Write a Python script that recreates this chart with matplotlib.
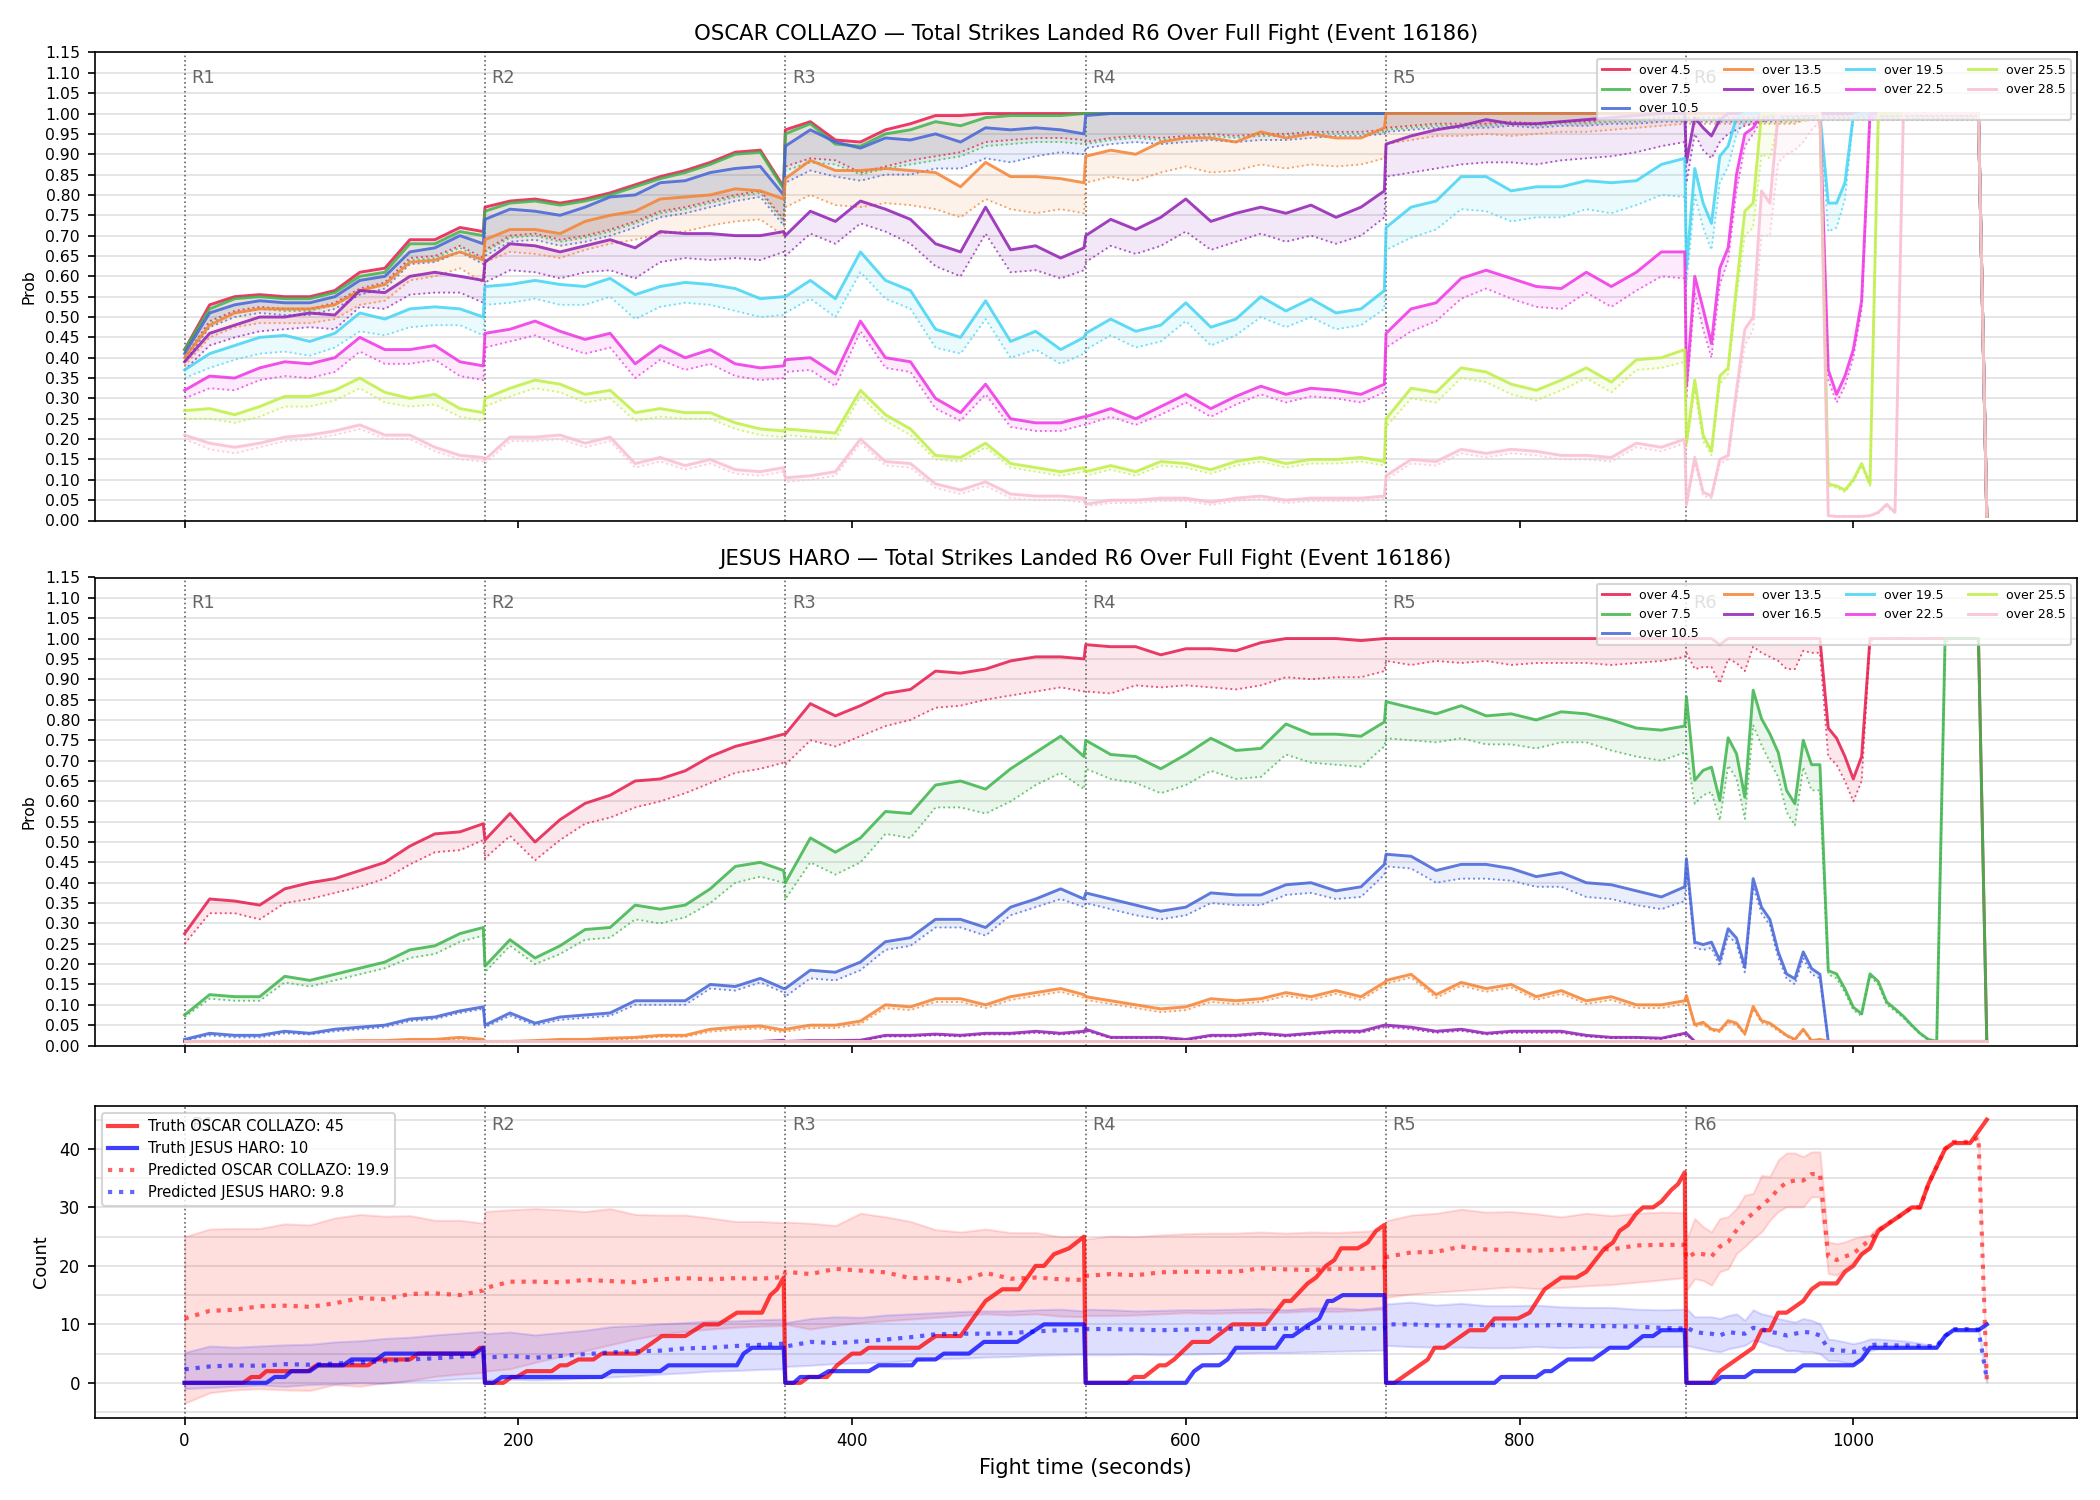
import matplotlib
matplotlib.use('Agg')
import matplotlib.pyplot as plt
import matplotlib.transforms as mtransforms
from matplotlib.ticker import MultipleLocator

# sample times: 15 s steps inside rounds 1-5, 5 s steps in round 6
t = [r * 180 + o for r in range(5)
     for o in (0, 15, 30, 45, 60, 75, 90, 105, 120, 135, 150, 165, 179)] + list(range(900, 1081, 5))

OVER = ['over 4.5', 'over 7.5', 'over 10.5', 'over 13.5', 'over 16.5',
        'over 19.5', 'over 22.5', 'over 25.5', 'over 28.5']
COLORS = ['#e6194b', '#3cb44b', '#4363d8', '#f58231', '#911eb4',
          '#42d4f4', '#f032e6', '#bfef45', '#fabed4']
ROUNDS = [0, 180, 360, 540, 720, 900]

# ---------------- OSCAR COLLAZO probabilities (solid = line, lo = dotted) ----------------
o45 = [0.42, 0.53, 0.55, 0.555, 0.55, 0.55, 0.565, 0.61, 0.62, 0.69, 0.69, 0.72, 0.71,
       0.77, 0.785, 0.79, 0.78, 0.79, 0.805, 0.825, 0.845, 0.86, 0.88, 0.905, 0.91, 0.82,
       0.96, 0.98, 0.935, 0.93, 0.96, 0.975, 0.995, 0.995, 1.0, 1.0, 1.0, 1.0, 1.0] \
    + [1.0] * 26 + [1.0] * 36 + [0.01]
o45_lo = [0.40, 0.49, 0.515, 0.525, 0.52, 0.52, 0.535, 0.57, 0.585, 0.645, 0.65, 0.675, 0.645,
          0.665, 0.70, 0.705, 0.69, 0.70, 0.715, 0.735, 0.76, 0.77, 0.785, 0.80, 0.81, 0.74,
          0.87, 0.89, 0.885, 0.855, 0.87, 0.885, 0.895, 0.905, 0.93, 0.935, 0.94, 0.94, 0.935,
          0.93, 0.94, 0.945, 0.94, 0.945, 0.95, 0.945, 0.95, 0.95, 0.955, 0.955, 0.955, 0.96,
          0.965, 0.97, 0.975, 0.975, 0.975, 0.98, 0.975, 0.98, 0.98, 0.985, 0.985, 0.99, 0.99] \
    + [0.99] * 14 + [0.995] * 22 + [0.01]

o75 = [0.42, 0.52, 0.545, 0.55, 0.545, 0.545, 0.56, 0.60, 0.61, 0.68, 0.68, 0.71, 0.70,
       0.76, 0.78, 0.785, 0.775, 0.785, 0.80, 0.82, 0.84, 0.855, 0.875, 0.90, 0.905, 0.815,
       0.95, 0.975, 0.925, 0.92, 0.95, 0.96, 0.98, 0.97, 0.99, 0.995, 0.995, 0.995, 1.0] \
    + [1.0] * 26 + [1.0] * 36 + [0.01]
o75_lo = [0.40, 0.485, 0.51, 0.52, 0.515, 0.515, 0.53, 0.565, 0.58, 0.64, 0.645, 0.67, 0.64,
          0.66, 0.695, 0.70, 0.685, 0.695, 0.71, 0.73, 0.755, 0.765, 0.78, 0.795, 0.805, 0.735,
          0.86, 0.88, 0.875, 0.85, 0.865, 0.875, 0.885, 0.895, 0.92, 0.925, 0.93, 0.93, 0.925,
          0.925, 0.935, 0.94, 0.935, 0.94, 0.945, 0.94, 0.945, 0.945, 0.95, 0.95, 0.95, 0.955,
          0.96, 0.965, 0.97, 0.97, 0.97, 0.975, 0.97, 0.975, 0.975, 0.98, 0.98, 0.985, 0.985] \
    + [0.985] * 14 + [0.99] * 22 + [0.01]

o105 = [0.41, 0.51, 0.53, 0.54, 0.535, 0.535, 0.55, 0.59, 0.60, 0.66, 0.67, 0.70, 0.68,
        0.74, 0.765, 0.76, 0.75, 0.77, 0.795, 0.80, 0.83, 0.835, 0.855, 0.865, 0.87, 0.80,
        0.92, 0.96, 0.93, 0.915, 0.94, 0.935, 0.95, 0.93, 0.965, 0.96, 0.965, 0.96, 0.95,
        0.995] + [1.0] * 12 + [1.0] * 13 + [1.0] * 36 + [0.01]
o105_lo = [0.39, 0.475, 0.50, 0.51, 0.505, 0.505, 0.52, 0.555, 0.57, 0.63, 0.635, 0.66, 0.63,
           0.65, 0.685, 0.69, 0.675, 0.685, 0.70, 0.72, 0.745, 0.755, 0.77, 0.785, 0.795, 0.725,
           0.83, 0.86, 0.845, 0.835, 0.85, 0.85, 0.865, 0.865, 0.89, 0.88, 0.895, 0.905, 0.90,
           0.915, 0.925, 0.93, 0.925, 0.93, 0.935, 0.93, 0.935, 0.935, 0.94, 0.945, 0.945, 0.95,
           0.955, 0.96, 0.965, 0.965, 0.965, 0.97, 0.965, 0.97, 0.97, 0.975, 0.975, 0.98, 0.98] \
    + [0.98] * 14 + [0.99] * 22 + [0.01]

o135 = [0.40, 0.48, 0.51, 0.52, 0.52, 0.52, 0.53, 0.565, 0.58, 0.635, 0.64, 0.66, 0.64,
        0.69, 0.715, 0.715, 0.705, 0.735, 0.75, 0.76, 0.79, 0.795, 0.80, 0.815, 0.81, 0.79,
        0.84, 0.885, 0.86, 0.86, 0.865, 0.86, 0.855, 0.82, 0.88, 0.845, 0.845, 0.84, 0.83,
        0.895, 0.91, 0.90, 0.93, 0.94, 0.94, 0.93, 0.955, 0.94, 0.95, 0.94, 0.94, 0.965] \
    + [1.0] * 13 + [1.0] * 36 + [0.01]
o135_lo = [0.38, 0.45, 0.475, 0.485, 0.485, 0.485, 0.495, 0.53, 0.54, 0.59, 0.60, 0.62, 0.585,
           0.635, 0.66, 0.655, 0.645, 0.665, 0.68, 0.69, 0.705, 0.71, 0.725, 0.735, 0.74, 0.70,
           0.77, 0.80, 0.775, 0.77, 0.78, 0.775, 0.765, 0.745, 0.79, 0.765, 0.755, 0.765, 0.755,
           0.83, 0.845, 0.835, 0.855, 0.87, 0.855, 0.86, 0.875, 0.865, 0.875, 0.87, 0.875, 0.89,
           0.925, 0.935, 0.945, 0.945, 0.95, 0.945, 0.95, 0.955, 0.955, 0.96, 0.965, 0.97, 0.975] \
    + [0.975] * 14 + [0.985] * 22 + [0.01]

o165 = [0.39, 0.46, 0.48, 0.50, 0.50, 0.51, 0.505, 0.565, 0.56, 0.60, 0.61, 0.60, 0.59,
        0.635, 0.68, 0.675, 0.66, 0.675, 0.69, 0.67, 0.71, 0.705, 0.705, 0.70, 0.70, 0.71,
        0.70, 0.76, 0.735, 0.785, 0.765, 0.74, 0.68, 0.66, 0.77, 0.665, 0.675, 0.645, 0.67,
        0.70, 0.74, 0.715, 0.745, 0.79, 0.735, 0.755, 0.77, 0.755, 0.775, 0.745, 0.77, 0.81,
        0.925, 0.945, 0.96, 0.97, 0.985, 0.975, 0.975, 0.98, 0.985, 0.99, 0.995, 1.0, 1.0,
        0.88, 0.99, 0.965, 0.945, 0.985] + [1.0] * 31 + [0.01]
o165_lo = [0.37, 0.43, 0.45, 0.465, 0.47, 0.475, 0.47, 0.525, 0.52, 0.555, 0.56, 0.56, 0.535,
           0.585, 0.615, 0.61, 0.595, 0.61, 0.615, 0.595, 0.635, 0.645, 0.64, 0.645, 0.64, 0.66,
           0.65, 0.705, 0.68, 0.73, 0.71, 0.68, 0.625, 0.60, 0.705, 0.61, 0.615, 0.595, 0.615,
           0.635, 0.675, 0.655, 0.675, 0.71, 0.665, 0.685, 0.705, 0.685, 0.70, 0.68, 0.70, 0.745,
           0.845, 0.855, 0.865, 0.875, 0.88, 0.88, 0.875, 0.885, 0.89, 0.895, 0.905, 0.92, 0.93,
           0.83, 0.95, 0.91, 0.89, 0.93, 0.95, 0.96, 0.97, 0.975, 0.98] + [0.985] * 26 + [0.01]

o195 = [0.37, 0.41, 0.43, 0.45, 0.455, 0.44, 0.46, 0.51, 0.495, 0.52, 0.525, 0.52, 0.50,
        0.575, 0.58, 0.59, 0.58, 0.575, 0.595, 0.555, 0.575, 0.585, 0.58, 0.57, 0.545, 0.55,
        0.55, 0.59, 0.545, 0.66, 0.59, 0.565, 0.47, 0.45, 0.54, 0.44, 0.465, 0.42, 0.45,
        0.46, 0.495, 0.465, 0.48, 0.535, 0.475, 0.495, 0.55, 0.515, 0.545, 0.51, 0.52, 0.565,
        0.72, 0.77, 0.785, 0.845, 0.845, 0.81, 0.82, 0.82, 0.835, 0.83, 0.835, 0.875, 0.89,
        0.62, 0.865, 0.78, 0.73, 0.895, 0.92, 0.99] + [1.0] * 10 \
    + [0.78, 0.78, 0.83, 0.995] + [1.0] * 15 + [0.01]
o195_lo = [0.35, 0.375, 0.395, 0.41, 0.415, 0.405, 0.425, 0.465, 0.455, 0.475, 0.48, 0.48, 0.455,
           0.53, 0.535, 0.545, 0.53, 0.53, 0.55, 0.495, 0.525, 0.535, 0.53, 0.515, 0.50, 0.505,
           0.51, 0.545, 0.50, 0.61, 0.545, 0.52, 0.425, 0.41, 0.495, 0.40, 0.42, 0.385, 0.41,
           0.42, 0.455, 0.425, 0.44, 0.49, 0.43, 0.455, 0.50, 0.475, 0.50, 0.47, 0.48, 0.52,
           0.665, 0.695, 0.715, 0.765, 0.76, 0.735, 0.745, 0.745, 0.765, 0.755, 0.775, 0.80, 0.795,
           0.58, 0.80, 0.72, 0.665, 0.83, 0.87, 0.95, 0.98, 0.99] + [0.995] * 8 \
    + [0.71, 0.72, 0.79, 0.985] + [0.995] * 15 + [0.01]

o225 = [0.32, 0.355, 0.35, 0.375, 0.39, 0.385, 0.40, 0.45, 0.42, 0.42, 0.43, 0.39, 0.38,
        0.46, 0.47, 0.49, 0.465, 0.445, 0.46, 0.385, 0.43, 0.40, 0.42, 0.385, 0.375, 0.38,
        0.395, 0.40, 0.36, 0.49, 0.40, 0.39, 0.30, 0.265, 0.335, 0.25, 0.24, 0.24, 0.255,
        0.255, 0.275, 0.25, 0.28, 0.31, 0.275, 0.305, 0.33, 0.31, 0.325, 0.32, 0.31, 0.335,
        0.46, 0.52, 0.535, 0.595, 0.615, 0.595, 0.575, 0.57, 0.61, 0.575, 0.61, 0.66, 0.66,
        0.33, 0.60, 0.52, 0.435, 0.62, 0.67, 0.85, 0.95, 0.965] + [1.0] * 8 \
    + [0.37, 0.31, 0.355, 0.42, 0.54] + [1.0] * 14 + [0.01]
o225_lo = [0.30, 0.325, 0.32, 0.345, 0.355, 0.35, 0.365, 0.415, 0.385, 0.385, 0.395, 0.355, 0.345,
           0.425, 0.44, 0.455, 0.43, 0.41, 0.425, 0.35, 0.395, 0.37, 0.385, 0.355, 0.345, 0.35,
           0.365, 0.37, 0.33, 0.465, 0.375, 0.365, 0.275, 0.245, 0.31, 0.23, 0.22, 0.22, 0.235,
           0.235, 0.255, 0.235, 0.26, 0.29, 0.255, 0.285, 0.31, 0.29, 0.305, 0.30, 0.29, 0.315,
           0.425, 0.465, 0.49, 0.545, 0.57, 0.545, 0.525, 0.52, 0.56, 0.525, 0.565, 0.60, 0.595,
           0.30, 0.56, 0.47, 0.40, 0.58, 0.64, 0.81, 0.92, 0.95, 0.985] + [0.995] * 7 \
    + [0.345, 0.29, 0.33, 0.40, 0.52, 0.985] + [0.995] * 13 + [0.01]

o255 = [0.27, 0.275, 0.26, 0.28, 0.305, 0.305, 0.32, 0.35, 0.315, 0.30, 0.31, 0.275, 0.265,
        0.30, 0.325, 0.345, 0.335, 0.31, 0.32, 0.265, 0.275, 0.265, 0.265, 0.24, 0.225, 0.22,
        0.225, 0.22, 0.215, 0.32, 0.26, 0.225, 0.16, 0.155, 0.19, 0.14, 0.13, 0.12, 0.13,
        0.12, 0.135, 0.12, 0.145, 0.14, 0.125, 0.145, 0.155, 0.14, 0.15, 0.15, 0.155, 0.145,
        0.25, 0.325, 0.315, 0.375, 0.365, 0.335, 0.32, 0.345, 0.375, 0.34, 0.395, 0.40, 0.42,
        0.19, 0.345, 0.21, 0.17, 0.355, 0.375, 0.575, 0.76, 0.78] + [1.0] * 8 \
    + [0.09, 0.085, 0.075, 0.10, 0.14, 0.09] + [1.0] * 13 + [0.01]
o255_lo = [0.25, 0.25, 0.24, 0.255, 0.28, 0.28, 0.295, 0.325, 0.29, 0.28, 0.285, 0.255, 0.245,
           0.28, 0.305, 0.325, 0.315, 0.29, 0.30, 0.245, 0.255, 0.25, 0.25, 0.225, 0.21, 0.205,
           0.21, 0.205, 0.20, 0.305, 0.245, 0.21, 0.15, 0.145, 0.18, 0.13, 0.12, 0.11, 0.12,
           0.11, 0.125, 0.11, 0.135, 0.13, 0.115, 0.135, 0.145, 0.13, 0.14, 0.14, 0.145, 0.135,
           0.23, 0.30, 0.29, 0.35, 0.34, 0.31, 0.295, 0.32, 0.35, 0.315, 0.37, 0.375, 0.39,
           0.18, 0.32, 0.195, 0.16, 0.335, 0.36, 0.55, 0.70, 0.72, 0.90, 0.89, 0.975, 0.98, 0.98,
           0.98, 0.985, 0.985, 0.085, 0.08, 0.07, 0.095, 0.135, 0.085, 0.985] + [0.99] * 12 + [0.01]

o285 = [0.21, 0.19, 0.18, 0.19, 0.205, 0.21, 0.22, 0.235, 0.21, 0.21, 0.18, 0.16, 0.155,
        0.15, 0.205, 0.205, 0.21, 0.19, 0.205, 0.14, 0.155, 0.135, 0.15, 0.125, 0.12, 0.13,
        0.105, 0.11, 0.12, 0.20, 0.145, 0.14, 0.09, 0.075, 0.095, 0.065, 0.06, 0.06, 0.055,
        0.04, 0.05, 0.05, 0.055, 0.055, 0.045, 0.055, 0.06, 0.05, 0.055, 0.055, 0.055, 0.06,
        0.11, 0.15, 0.145, 0.175, 0.165, 0.175, 0.17, 0.16, 0.16, 0.155, 0.19, 0.18, 0.20,
        0.04, 0.155, 0.07, 0.06, 0.15, 0.16, 0.32, 0.47, 0.50, 0.81, 0.78, 1.0] + [1.0] * 5 \
    + [0.012, 0.01, 0.01, 0.01, 0.01, 0.012, 0.02, 0.04, 0.02] + [1.0] * 10 + [0.01]
o285_lo = [0.20, 0.175, 0.165, 0.18, 0.195, 0.20, 0.21, 0.225, 0.20, 0.20, 0.17, 0.15, 0.145,
           0.14, 0.195, 0.195, 0.20, 0.18, 0.195, 0.13, 0.145, 0.125, 0.14, 0.115, 0.11, 0.12,
           0.095, 0.10, 0.11, 0.19, 0.135, 0.13, 0.08, 0.065, 0.085, 0.055, 0.05, 0.05, 0.045,
           0.035, 0.043, 0.043, 0.048, 0.048, 0.038, 0.048, 0.053, 0.043, 0.048, 0.048, 0.048, 0.053,
           0.10, 0.14, 0.135, 0.165, 0.155, 0.165, 0.16, 0.15, 0.15, 0.145, 0.18, 0.17, 0.19,
           0.035, 0.14, 0.06, 0.055, 0.14, 0.15, 0.30, 0.43, 0.47, 0.70, 0.70, 0.88, 0.90, 0.91,
           0.93, 0.96, 0.98, 0.01, 0.01, 0.01, 0.01, 0.01, 0.011, 0.018, 0.035, 0.018, 0.98] \
    + [0.99] * 9 + [0.01]

# ---------------- JESUS HARO probabilities ----------------
h45 = [0.275, 0.36, 0.355, 0.345, 0.385, 0.40, 0.41, 0.43, 0.45, 0.49, 0.52, 0.525, 0.545,
       0.505, 0.57, 0.50, 0.555, 0.595, 0.615, 0.65, 0.655, 0.675, 0.71, 0.735, 0.75, 0.765,
       0.765, 0.84, 0.81, 0.835, 0.865, 0.875, 0.92, 0.915, 0.925, 0.945, 0.955, 0.955, 0.95,
       0.985, 0.98, 0.98, 0.96, 0.975, 0.975, 0.97, 0.99, 1.0, 1.0, 1.0, 0.995, 1.0] \
    + [1.0] * 13 + [1.0, 1.0, 1.0, 1.0, 0.985] + [1.0] * 12 \
    + [0.78, 0.755, 0.71, 0.655, 0.71] + [1.0] * 14 + [0.01]
h45_lo = [0.25, 0.325, 0.325, 0.31, 0.35, 0.36, 0.375, 0.39, 0.41, 0.445, 0.475, 0.48, 0.505,
          0.46, 0.515, 0.455, 0.505, 0.545, 0.56, 0.585, 0.60, 0.62, 0.645, 0.67, 0.68, 0.695,
          0.69, 0.75, 0.735, 0.76, 0.785, 0.80, 0.83, 0.835, 0.85, 0.86, 0.87, 0.88, 0.87,
          0.87, 0.865, 0.885, 0.88, 0.885, 0.88, 0.875, 0.885, 0.905, 0.90, 0.905, 0.905, 0.92,
          0.945, 0.935, 0.945, 0.94, 0.945, 0.935, 0.94, 0.94, 0.94, 0.935, 0.94, 0.945, 0.955,
          0.965, 0.925, 0.93, 0.93, 0.89, 0.95, 0.94, 0.92, 0.98, 0.965, 0.955, 0.945, 0.925,
          0.925, 0.97, 0.965, 0.965, 0.71, 0.69, 0.65, 0.60, 0.65, 0.995] + [1.0] * 13 + [0.01]

h75 = [0.075, 0.125, 0.12, 0.12, 0.17, 0.16, 0.175, 0.19, 0.205, 0.235, 0.245, 0.275, 0.29,
       0.195, 0.26, 0.215, 0.245, 0.285, 0.29, 0.345, 0.335, 0.345, 0.385, 0.44, 0.45, 0.43,
       0.40, 0.51, 0.475, 0.51, 0.575, 0.57, 0.64, 0.65, 0.63, 0.68, 0.72, 0.76, 0.71,
       0.75, 0.715, 0.71, 0.68, 0.715, 0.755, 0.725, 0.73, 0.79, 0.765, 0.765, 0.76, 0.795,
       0.845, 0.83, 0.815, 0.835, 0.81, 0.815, 0.80, 0.82, 0.815, 0.80, 0.78, 0.775, 0.785,
       0.857, 0.652, 0.676, 0.684, 0.602, 0.756, 0.717, 0.61, 0.873, 0.803, 0.766, 0.72, 0.627,
       0.594, 0.75, 0.69, 0.69, 0.184, 0.176, 0.139, 0.094, 0.078, 0.176, 0.157, 0.107, 0.09,
       0.072, 0.05, 0.03, 0.015, 0.01, 1.0, 1.0, 1.0, 1.0, 1.0, 0.01]
h75_lo = [0.07, 0.115, 0.11, 0.11, 0.155, 0.145, 0.16, 0.175, 0.19, 0.215, 0.225, 0.255, 0.27,
          0.18, 0.245, 0.20, 0.225, 0.26, 0.265, 0.31, 0.30, 0.315, 0.35, 0.40, 0.415, 0.40,
          0.36, 0.45, 0.42, 0.45, 0.52, 0.51, 0.585, 0.585, 0.57, 0.60, 0.64, 0.67, 0.63,
          0.68, 0.655, 0.645, 0.62, 0.64, 0.675, 0.655, 0.66, 0.715, 0.695, 0.69, 0.685, 0.735,
          0.755, 0.75, 0.745, 0.755, 0.74, 0.74, 0.73, 0.745, 0.745, 0.725, 0.71, 0.70, 0.72,
          0.72, 0.594, 0.615, 0.623, 0.553, 0.688, 0.656, 0.557, 0.787, 0.738, 0.697, 0.66, 0.574,
          0.541, 0.684, 0.627, 0.627, 0.175, 0.165, 0.13, 0.088, 0.072, 0.17, 0.15, 0.10, 0.085,
          0.068, 0.047, 0.028, 0.014, 0.01, 0.99, 1.0, 1.0, 1.0, 1.0, 0.01]

h105 = [0.015, 0.03, 0.025, 0.025, 0.035, 0.03, 0.04, 0.045, 0.05, 0.065, 0.07, 0.085, 0.095,
        0.05, 0.08, 0.055, 0.07, 0.075, 0.08, 0.11, 0.11, 0.11, 0.15, 0.145, 0.165, 0.14,
        0.14, 0.185, 0.18, 0.205, 0.255, 0.265, 0.31, 0.31, 0.29, 0.34, 0.36, 0.385, 0.36,
        0.375, 0.36, 0.345, 0.33, 0.34, 0.375, 0.37, 0.37, 0.395, 0.40, 0.38, 0.39, 0.445,
        0.47, 0.465, 0.43, 0.445, 0.445, 0.435, 0.415, 0.425, 0.40, 0.395, 0.38, 0.365, 0.39,
        0.459, 0.254, 0.248, 0.254, 0.209, 0.287, 0.264, 0.193, 0.41, 0.34, 0.31, 0.23, 0.176,
        0.164, 0.23, 0.189, 0.175] + [0.01] * 20
h105_lo = [0.012, 0.025, 0.02, 0.02, 0.03, 0.027, 0.035, 0.04, 0.045, 0.06, 0.065, 0.08, 0.09,
           0.045, 0.073, 0.05, 0.063, 0.068, 0.073, 0.10, 0.10, 0.10, 0.14, 0.135, 0.155, 0.13,
           0.12, 0.165, 0.16, 0.185, 0.235, 0.245, 0.29, 0.29, 0.27, 0.32, 0.34, 0.36, 0.34,
           0.35, 0.335, 0.32, 0.31, 0.32, 0.35, 0.345, 0.345, 0.37, 0.375, 0.36, 0.365, 0.42,
           0.44, 0.435, 0.40, 0.41, 0.41, 0.405, 0.39, 0.39, 0.365, 0.36, 0.345, 0.335, 0.355,
           0.44, 0.24, 0.235, 0.24, 0.195, 0.27, 0.25, 0.18, 0.39, 0.325, 0.295, 0.215, 0.165,
           0.15, 0.215, 0.175, 0.165] + [0.01] * 20

h135 = [0.01, 0.01, 0.01, 0.01, 0.01, 0.01, 0.01, 0.012, 0.012, 0.015, 0.015, 0.02, 0.015,
        0.01, 0.01, 0.012, 0.015, 0.015, 0.018, 0.02, 0.025, 0.025, 0.04, 0.045, 0.048, 0.038,
        0.04, 0.05, 0.05, 0.06, 0.10, 0.095, 0.115, 0.115, 0.10, 0.12, 0.13, 0.14, 0.125,
        0.12, 0.11, 0.10, 0.09, 0.095, 0.115, 0.11, 0.115, 0.13, 0.12, 0.135, 0.12, 0.155,
        0.16, 0.175, 0.125, 0.155, 0.14, 0.15, 0.12, 0.135, 0.11, 0.12, 0.10, 0.10, 0.11,
        0.123, 0.051, 0.057, 0.04, 0.037, 0.061, 0.055, 0.029, 0.096, 0.061, 0.055, 0.04, 0.025,
        0.015, 0.04, 0.012, 0.015] + [0.01] * 20
h135_lo = [0.008, 0.008, 0.008, 0.008, 0.008, 0.008, 0.008, 0.01, 0.01, 0.012, 0.012, 0.016, 0.012,
           0.008, 0.008, 0.01, 0.012, 0.012, 0.015, 0.017, 0.021, 0.021, 0.034, 0.039, 0.042, 0.032,
           0.034, 0.043, 0.043, 0.053, 0.092, 0.087, 0.107, 0.107, 0.092, 0.112, 0.122, 0.132, 0.117,
           0.112, 0.102, 0.092, 0.082, 0.087, 0.107, 0.102, 0.107, 0.122, 0.112, 0.127, 0.112, 0.147,
           0.152, 0.167, 0.117, 0.147, 0.132, 0.142, 0.112, 0.127, 0.102, 0.112, 0.092, 0.092, 0.102,
           0.117, 0.046, 0.052, 0.036, 0.033, 0.056, 0.05, 0.026, 0.09, 0.056, 0.05, 0.036, 0.022,
           0.013, 0.036, 0.011, 0.013] + [0.009] * 20

h165 = [0.01] * 13 + [0.01] * 12 + [0.013] \
    + [0.01, 0.012, 0.012, 0.013, 0.025, 0.025, 0.028, 0.025, 0.03, 0.03, 0.035, 0.03, 0.035,
       0.04, 0.02, 0.02, 0.02, 0.015, 0.025, 0.025, 0.03, 0.025, 0.03, 0.035, 0.035, 0.05,
       0.05, 0.045, 0.035, 0.04, 0.03, 0.035, 0.035, 0.035, 0.025, 0.02, 0.02, 0.018, 0.03,
       0.03] + [0.01] * 36
h165_lo = [0.009] * 13 + [0.009] * 12 + [0.012] \
    + [0.009, 0.011, 0.011, 0.012, 0.022, 0.022, 0.025, 0.022, 0.027, 0.027, 0.031, 0.027, 0.031,
       0.036, 0.018, 0.018, 0.018, 0.013, 0.022, 0.022, 0.027, 0.022, 0.027, 0.031, 0.031, 0.045,
       0.045, 0.04, 0.031, 0.036, 0.027, 0.031, 0.031, 0.031, 0.022, 0.018, 0.018, 0.016, 0.027,
       0.027] + [0.009] * 36

# the higher Haro lines sit on the floor for the whole fight
h_floor = [0.01] * len(t)
h_floor_lo = [0.009] * len(t)

# ---------------- strike counts ----------------
truth_osc_t = [0, 35, 40, 45, 49, 74, 79, 110, 115, 135, 140, 173, 177, 179,
               180, 191, 196, 199, 205, 220, 225, 229, 236, 245, 250, 271, 286, 300, 311, 320,
               331, 346, 351, 355, 359,
               360, 369, 374, 385, 391, 400, 405, 410, 440, 450, 465, 480, 490, 500, 510, 515,
               521, 530, 539,
               540, 565, 569, 575, 584, 588, 593, 604, 614, 628, 648, 659, 663, 673, 678, 684,
               689, 693, 703, 709, 714, 719,
               720, 725, 745, 749, 755, 770, 779, 785, 799, 806, 815, 825, 834, 840, 851, 856,
               860, 865, 870, 874, 880, 885, 891, 895, 899,
               900, 915, 920, 925, 930, 935, 940, 945, 950, 955, 960, 965, 970, 975, 980, 990,
               995, 1000, 1005, 1010, 1015, 1025, 1035, 1040, 1045, 1050, 1055, 1060, 1070, 1080]
truth_osc_v = [0, 0, 1, 1, 2, 2, 3, 3, 4, 4, 5, 5, 6, 6,
               0, 0, 1, 1, 2, 2, 3, 3, 4, 4, 5, 5, 8, 8, 10, 10,
               12, 12, 15, 16, 18,
               0, 0, 1, 1, 3, 5, 5, 6, 6, 8, 8, 14, 16, 16, 20, 20,
               22, 23, 25,
               0, 0, 1, 1, 3, 3, 4, 7, 7, 10, 10, 14, 14, 17, 18, 20,
               21, 23, 23, 24, 26, 27,
               0, 0, 4, 6, 6, 9, 9, 11, 11, 12, 16, 18, 18, 19, 23, 24,
               26, 27, 29, 30, 30, 31, 33, 34, 36,
               0, 0, 2, 3, 4, 5, 6, 9, 9, 12, 12, 13, 14, 16, 17, 17,
               19, 20, 22, 23, 26, 28, 30, 30, 34, 37, 40, 41, 41, 45]

truth_haro_t = [0, 49, 54, 60, 64, 75, 80, 95, 100, 115, 120, 174, 179,
                180, 185, 190, 250, 256, 285, 290, 331, 335, 340, 359,
                360, 365, 369, 380, 386, 410, 416, 436, 439, 450, 455, 470, 479, 499, 515, 539,
                540, 600, 605, 610, 620, 625, 630, 654, 659, 664, 674, 680, 685, 688, 694, 719,
                720, 785, 789, 810, 815, 819, 829, 844, 854, 865, 874, 880, 885, 899,
                900, 917, 921, 935, 940, 965, 970, 1000, 1005, 1010, 1050, 1055, 1060, 1075, 1080]
truth_haro_v = [0, 0, 1, 1, 2, 2, 3, 3, 4, 4, 5, 5, 6,
                0, 0, 1, 1, 2, 2, 3, 3, 5, 6, 6,
                0, 0, 1, 1, 2, 2, 3, 3, 4, 4, 5, 5, 7, 7, 10, 10,
                0, 0, 2, 3, 3, 4, 6, 6, 8, 8, 10, 11, 14, 14, 15, 15,
                0, 0, 1, 1, 2, 2, 4, 4, 6, 6, 8, 8, 9, 9,
                0, 0, 1, 1, 2, 2, 3, 3, 4, 6, 6, 8, 9, 9, 10]

pred_osc = [11.0, 12.3, 12.5, 13.1, 13.2, 13.0, 13.6, 14.5, 14.3, 15.2, 15.3, 15.0, 15.8,
            16.2, 17.3, 17.3, 17.2, 17.6, 17.4, 17.2, 17.7, 17.9, 17.7, 17.9, 17.8, 18.1,
            19.0, 18.6, 19.5, 19.2, 18.9, 17.9, 18.0, 17.4, 18.8, 17.8, 18.0, 17.7, 17.6,
            18.3, 18.6, 18.4, 18.9, 19.0, 19.0, 19.0, 19.6, 19.4, 19.3, 19.5, 19.5, 19.8,
            21.5, 22.3, 22.4, 23.3, 22.8, 22.7, 22.6, 22.8, 23.1, 22.8, 23.5, 23.6, 23.6,
            21.3, 22.2, 22.0, 21.6, 23.3, 24.1, 26.1, 27.8, 29.0, 30.3, 31.5, 33.1, 34.3,
            34.6, 34.6, 35.7, 35.7, 21.6, 21.0, 21.6, 22.1, 23.3, 24.5, 26.0, 27.1, 28.0,
            28.9, 30.0, 30.0, 34.0, 37.0, 40.0, 41.2, 41.2, 41.2, 42.0, 0.6]
osc_band_hi = [25.0, 26.3, 26.4, 26.4, 27.2, 27.0, 28.2, 28.8, 28.5, 28.6, 27.8, 27.8, 27.3,
               29.3, 29.6, 29.8, 29.6, 29.3, 29.8, 28.8, 28.7, 28.7, 28.2, 27.6, 27.6, 27.4,
               27.5, 27.3, 26.9, 29.0, 28.4, 27.6, 26.2, 25.8, 26.3, 25.7, 25.7, 25.0, 25.1,
               24.6, 25.1, 25.0, 25.3, 25.5, 25.6, 25.6, 25.8, 25.6, 25.8, 25.7, 25.9, 26.1,
               27.7, 28.7, 29.0, 29.7, 29.2, 29.3, 28.9, 28.4, 29.0, 28.6, 29.0, 29.2, 29.1,
               24.5, 28.1, 26.7, 25.8, 28.1, 28.4, 29.8, 32.1, 32.4, 35.5, 35.3, 38.1, 39.3,
               39.3, 38.7, 39.5, 39.5, 24.1, 23.8, 24.1, 24.7, 25.0, 25.3, 26.7, 27.3, 28.2,
               29.1, 30.1, 30.1, 34.1, 37.0, 40.1, 41.3, 41.3, 41.3, 42.2, 0.6]
osc_band_lo = [-3.5, -1.7, -1.2, -1.0, -1.2, -1.3, -0.3, -0.6, 0.0, 0.4, 1.1, 1.5, 1.8,
               2.0, 2.4, 3.5, 4.5, 5.5, 6.5, 7.5, 8.3, 8.8, 9.2, 9.5, 9.7, 9.8,
               10.0, 9.2, 9.8, 10.3, 10.6, 10.9, 11.2, 11.5, 11.8, 11.6, 11.8, 11.4, 11.3,
               11.5, 11.5, 11.6, 11.8, 12.0, 11.9, 12.0, 12.0, 12.1, 12.3, 12.2, 12.4, 12.6,
               14.6, 15.2, 15.5, 15.8, 16.1, 16.4, 16.1, 16.3, 16.6, 16.8, 17.2, 17.6, 18.0,
               15.8, 17.8, 17.5, 16.7, 19.0, 19.5, 22.1, 23.3, 24.7, 25.8, 27.8, 29.3, 30.1,
               30.1, 30.1, 31.8, 31.8, 18.7, 18.4, 19.5, 20.7, 21.8, 23.3, 25.8, 27.0, 27.9,
               28.8, 29.9, 29.9, 33.9, 36.9, 39.9, 41.1, 41.1, 41.1, 41.9, 0.5]

pred_haro = [2.3, 2.8, 3.0, 2.9, 3.2, 3.1, 3.3, 3.5, 3.7, 4.0, 4.2, 4.5, 4.6,
             4.3, 4.6, 4.3, 4.6, 4.9, 5.2, 5.4, 5.5, 5.9, 6.0, 6.3, 6.5, 6.7,
             6.2, 7.0, 6.8, 7.1, 7.4, 7.8, 8.3, 8.4, 8.4, 8.5, 8.8, 9.0, 9.0,
             9.2, 9.2, 9.1, 9.0, 9.1, 9.3, 9.2, 9.2, 9.3, 9.4, 9.5, 9.3, 9.3,
             10.0, 10.0, 9.8, 9.8, 9.9, 9.8, 9.8, 9.9, 9.7, 9.7, 9.6, 9.4, 9.3,
             9.5, 8.7, 8.5, 8.4, 8.1, 8.7, 8.5, 8.4, 9.4, 9.2, 8.7, 8.5, 8.1,
             8.4, 8.7, 8.6, 8.1, 5.8, 5.5, 5.5, 5.3, 5.5, 6.4, 6.6, 6.5, 6.4,
             6.4, 6.4, 6.3, 6.3, 6.3, 8.0, 9.2, 9.2, 9.2, 9.1, 0.7]
haro_band_hi = [5.2, 6.3, 6.1, 6.3, 6.5, 6.6, 7.0, 7.2, 7.6, 7.8, 8.2, 8.5, 8.8,
                8.4, 8.7, 8.2, 8.6, 9.0, 9.6, 9.8, 10.1, 10.3, 10.6, 10.6, 10.8, 10.9,
                10.3, 11.0, 11.3, 11.2, 11.6, 11.8, 12.0, 12.2, 12.3, 12.3, 12.5, 12.6, 12.3,
                12.6, 12.5, 12.3, 12.4, 12.5, 12.5, 12.6, 12.7, 12.5, 12.8, 12.8, 12.6, 13.0,
                13.5, 13.8, 13.3, 13.6, 13.2, 13.2, 13.3, 13.0, 12.9, 12.9, 12.6, 12.5, 12.6,
                12.7, 11.3, 11.3, 11.3, 11.0, 11.5, 11.8, 10.7, 12.5, 11.8, 11.5, 11.0, 10.7,
                10.4, 11.0, 10.7, 10.1, 7.5, 7.3, 7.0, 6.7, 7.0, 7.5, 7.5, 7.4, 7.3,
                7.2, 7.0, 6.8, 6.5, 6.2, 8.0, 9.3, 9.3, 9.3, 9.3, 0.4]
haro_band_lo = [-1.0, -0.8, -0.6, -0.4, -0.6, -0.3, -0.2, 0.0, -0.1, 0.3, 0.4, 0.7, 0.8,
                0.5, 0.6, 0.5, 0.6, 0.8, 1.0, 1.2, 1.5, 1.7, 2.0, 2.1, 2.3, 2.4,
                2.8, 3.0, 3.3, 3.4, 3.5, 3.8, 4.1, 4.2, 4.4, 4.5, 4.7, 4.8, 4.9,
                4.8, 4.8, 4.9, 4.8, 4.9, 5.0, 5.1, 5.2, 5.2, 5.3, 5.4, 5.5, 5.6,
                6.4, 6.2, 6.1, 6.1, 6.0, 6.0, 6.2, 6.0, 6.1, 6.1, 6.2, 6.2, 6.2,
                6.4, 6.1, 5.8, 5.5, 5.3, 5.8, 6.1, 6.4, 7.3, 7.0, 6.4, 6.1, 5.5,
                5.5, 5.3, 5.3, 5.0, 3.8, 3.8, 3.5, 3.3, 4.1, 5.5, 5.8, 5.8, 5.8,
                5.9, 5.9, 5.9, 5.9, 5.9, 8.0, 9.2, 9.2, 9.2, 9.2, 0.1]

oscar_lines = [(o45, o45_lo), (o75, o75_lo), (o105, o105_lo), (o135, o135_lo), (o165, o165_lo),
               (o195, o195_lo), (o225, o225_lo), (o255, o255_lo), (o285, o285_lo)]
haro_lines = [(h45, h45_lo), (h75, h75_lo), (h105, h105_lo), (h135, h135_lo), (h165, h165_lo),
              (h_floor, h_floor_lo), (h_floor, h_floor_lo), (h_floor, h_floor_lo), (h_floor, h_floor_lo)]


def mark_rounds(ax):
    trans = mtransforms.blended_transform_factory(ax.transData, ax.transAxes)
    for i, x in enumerate(ROUNDS):
        ax.axvline(x, color='0.4', ls=':', lw=0.8, zorder=1)
        ax.text(x + 4, 0.965, 'R%d' % (i + 1), transform=trans, color='0.4',
                fontsize=8.5, va='top', zorder=1)


def draw_probs(ax, lines, title):
    for (hi, lo), name, c in zip(lines, OVER, COLORS):
        ax.fill_between(t, lo, hi, color=c, alpha=0.1, lw=0)
        ax.plot(t, lo, color=c, lw=0.9, ls=':', alpha=0.75)
        ax.plot(t, hi, color=c, lw=1.4, alpha=0.85, label=name)
    ax.set_ylim(0, 1.15)
    ax.yaxis.set_major_locator(MultipleLocator(0.05))
    ax.grid(axis='y', color='0.88', lw=0.8)
    ax.set_axisbelow(True)
    ax.set_ylabel('Prob', fontsize=7.5)
    ax.set_title(title, fontsize=10.2)
    ax.tick_params(labelsize=7.5, labelbottom=False)
    mark_rounds(ax)
    ax.legend(loc='upper right', ncol=4, fontsize=6.0, framealpha=0.8,
              handlelength=2.2, columnspacing=2.0)


fig = plt.figure(figsize=(14, 10), dpi=150)
ax1 = fig.add_axes([0.045, 0.653, 0.944, 0.312])
ax2 = fig.add_axes([0.045, 0.303, 0.944, 0.312], sharex=ax1)
ax3 = fig.add_axes([0.045, 0.055, 0.944, 0.208], sharex=ax1)

draw_probs(ax1, oscar_lines,
           'OSCAR COLLAZO \u2014 Total Strikes Landed R6 Over Full Fight (Event 16186)')
draw_probs(ax2, haro_lines,
           'JESUS HARO \u2014 Total Strikes Landed R6 Over Full Fight (Event 16186)')

ax3.fill_between(t, osc_band_lo, osc_band_hi, color='red', alpha=0.13)
ax3.fill_between(t, haro_band_lo, haro_band_hi, color='blue', alpha=0.13)
ax3.plot(truth_osc_t, truth_osc_v, color='red', lw=2, alpha=0.75, label='Truth OSCAR COLLAZO: 45')
ax3.plot(truth_haro_t, truth_haro_v, color='blue', lw=2, alpha=0.75, label='Truth JESUS HARO: 10')
ax3.plot(t, pred_osc, color='red', lw=2, ls=':', alpha=0.6, label='Predicted OSCAR COLLAZO: 19.9')
ax3.plot(t, pred_haro, color='blue', lw=2, ls=':', alpha=0.6, label='Predicted JESUS HARO: 9.8')
ax3.yaxis.set_major_locator(MultipleLocator(10))
ax3.yaxis.set_minor_locator(MultipleLocator(5))
ax3.tick_params(axis='y', which='minor', length=0)
ax3.grid(axis='y', which='both', color='0.88', lw=0.8)
ax3.set_axisbelow(True)
ax3.set_ylabel('Count', fontsize=8.5)
ax3.set_xlabel('Fight time (seconds)', fontsize=10)
ax3.tick_params(labelsize=8)
mark_rounds(ax3)
ax3.legend(loc='upper left', fontsize=7.0, framealpha=0.8)

fig.savefig('out.png', dpi=150)
